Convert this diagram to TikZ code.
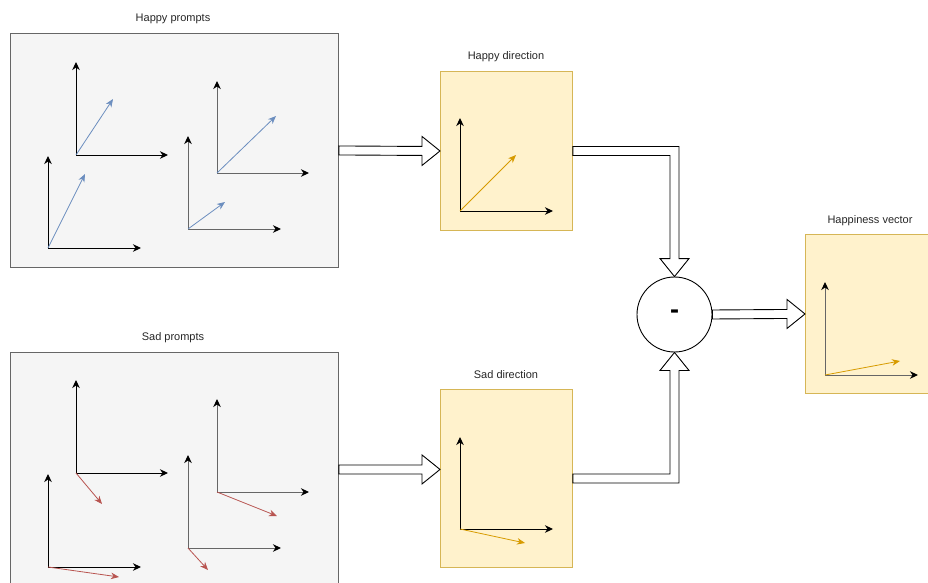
\documentclass[tikz,border=0pt]{standalone}
\usepackage{fontspec}
\setmainfont{Liberation Sans}
\usetikzlibrary{arrows.meta,calc}

\definecolor{panelfill}{HTML}{F5F5F5}
\definecolor{panelline}{HTML}{666666}
\definecolor{dirfill}{HTML}{FFF2CC}
\definecolor{dirline}{HTML}{D6B656}
\definecolor{happyvec}{HTML}{6C8EBF}
\definecolor{sadvec}{HTML}{B85450}
\definecolor{resvec}{HTML}{D79B00}
\definecolor{axisgray}{HTML}{666666}

\tikzset{
  panel/.style={draw=panelline, fill=panelfill, line width=0.9pt, inner sep=0pt},
  dirbox/.style={draw=dirline, fill=dirfill, line width=0.9pt, inner sep=0pt},
  caption/.style={font=\fontsize{11}{13}\selectfont, text=black!85, inner sep=0pt},
  axisline/.style={line width=1pt, -{Stealth[length=8pt,width=7.5pt,inset=2.5pt,black]}},
  vecline/.style={line width=0.8pt, -{Stealth[length=8pt,width=6.5pt,inset=2.5pt]}},
  flex/.style={draw=black, fill=white, line width=0.9pt, line join=miter},
}

% \plotaxes{name}{origin}{y-axis tip}{x-axis tip}{vector tip}{axis colour}{vector colour}
\newcommand\plotaxes[7]{%
  \coordinate (#1-o) at (#2);
  \coordinate (#1-y) at (#3);
  \coordinate (#1-x) at (#4);
  \coordinate (#1-v) at (#5);
  \draw[axisline, draw=#6] (#1-o) -- (#1-y);
  \draw[axisline, draw=#6] (#1-o) -- (#1-x);
  \draw[vecline, draw=#7, #7] (#1-o) -- (#1-v);
}

% hollow block arrow pointing right from #1 to #2
\newcommand\blockright[2]{%
  \draw[flex] ($(#1)+(0,-4.5)$) -- ($(#2)+(-18,-4.5)$) -- ($(#2)+(-18,-14.5)$)
    -- (#2) -- ($(#2)+(-18,14.5)$) -- ($(#2)+(-18,4.5)$) -- ($(#1)+(0,4.5)$) -- cycle;
}

\begin{document}
\begin{tikzpicture}[x=1pt, y=-1pt]
\useasboundingbox (0,0) rectangle (928,583);

% input panels
\node[panel, minimum width=328pt, minimum height=234pt, anchor=north west] (hp) at (10,33) {};
\node[caption] (hpcap) at (173,19) {Happy prompts};
\node[panel, minimum width=328pt, minimum height=234pt, anchor=north west] (sp) at (10,352) {};
\node[caption] (spcap) at (173,338) {Sad prompts};

% averaged directions
\node[dirbox, minimum width=132pt, minimum height=159pt, anchor=north west] (hd) at (440,71) {};
\node[caption] (hdcap) at (506,56.5) {Happy direction};
\node[dirbox, minimum width=132pt, minimum height=178pt, anchor=north west] (sd) at (440,389) {};
\node[caption] (sdcap) at (506,374.5) {Sad direction};

% subtraction
\node[draw=black, fill=white, circle, minimum size=75pt, line width=0.9pt, inner sep=0pt,
      font=\fontsize{27}{29}\selectfont\bfseries] (minus) at (674.5,314.5) {-};

% result
\node[dirbox, minimum width=132pt, minimum height=159pt, anchor=north west] (hv) at (805,234) {};
\node[caption] (hvcap) at (870,220.5) {Happiness vector};

% happy prompt embeddings
\plotaxes{ha}{76,155}{76,62}{168,155}{113,99}{black}{happyvec}
\plotaxes{hb}{48,248}{48,156}{141,248}{85,174}{black}{happyvec}
\plotaxes{hc}{217,173}{217,81}{309,173}{276,116}{axisgray}{happyvec}
\plotaxes{hdd}{188,229}{188,136}{281,229}{225,202}{axisgray}{happyvec}

% sad prompt embeddings
\plotaxes{sa}{76,473}{76,380}{168,473}{102,504}{black}{sadvec}
\plotaxes{sb}{48,567}{48,474}{141,567}{119,577}{black}{sadvec}
\plotaxes{sc}{217,492}{217,399}{309,492}{277,516}{axisgray}{sadvec}
\plotaxes{sdd}{188,548}{188,455}{281,548}{208,570}{axisgray}{sadvec}

% direction plots
\plotaxes{hdir}{460,211}{460,118}{553,211}{516,155}{black}{resvec}
\plotaxes{sdir}{460,529}{460,437}{553,529}{525,543}{black}{resvec}
\plotaxes{hvec}{825,375}{825,282}{918,375}{900,361}{axisgray}{resvec}

% flow arrows
\blockright{hp.east}{hd.west}
\blockright{sp.east}{sd.west |- sp.east}
\blockright{minus.east}{hv.west}

% happy direction -> minus (elbow, pointing down)
\draw[flex] ($(hd.east)+(0,-4.5)$) -- ($(minus.north |- hd.east)+(4.5,-4.5)$)
  -- ($(minus.north)+(4.5,-18)$) -- ($(minus.north)+(14.5,-18)$) -- (minus.north)
  -- ($(minus.north)+(-14.5,-18)$) -- ($(minus.north)+(-4.5,-18)$)
  -- ($(minus.north |- hd.east)+(-4.5,4.5)$) -- ($(hd.east)+(0,4.5)$) -- cycle;

% sad direction -> minus (elbow, pointing up)
\draw[flex] ($(sd.east)+(0,4.5)$) -- ($(minus.south |- sd.east)+(4.5,4.5)$)
  -- ($(minus.south)+(4.5,18)$) -- ($(minus.south)+(14.5,18)$) -- (minus.south)
  -- ($(minus.south)+(-14.5,18)$) -- ($(minus.south)+(-4.5,18)$)
  -- ($(minus.south |- sd.east)+(-4.5,-4.5)$) -- ($(sd.east)+(0,-4.5)$) -- cycle;
\end{tikzpicture}
\end{document}
